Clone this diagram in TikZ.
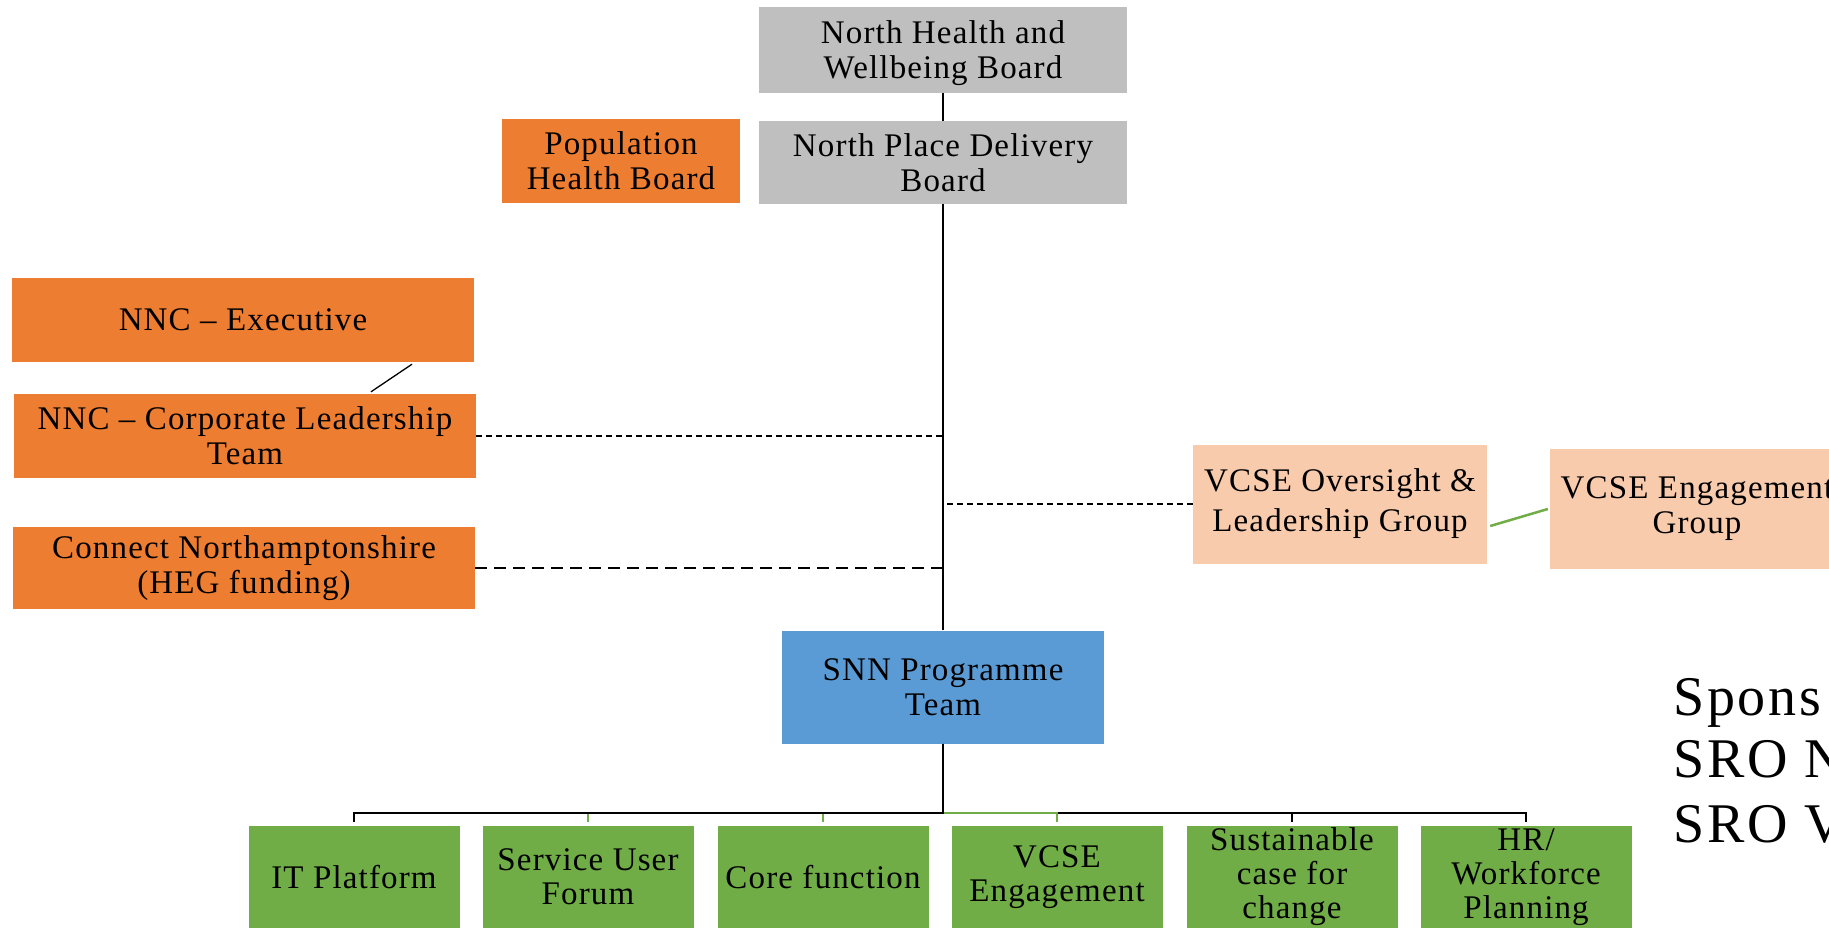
\documentclass[tikz,border=0pt]{standalone}
\usepackage{fontspec}
\setmainfont{Liberation Serif}[LetterSpace=3.5]
\newfontfamily\bigfont{Liberation Serif}[LetterSpace=5]
\definecolor{cgrey}{HTML}{BFBFBF}
\definecolor{corange}{HTML}{ED7D31}
\definecolor{clight}{HTML}{F8CBAD}
\definecolor{cblue}{HTML}{5B9BD5}
\definecolor{cgreen}{HTML}{70AD47}
\begin{document}
\begin{tikzpicture}[x=1pt,y=-1pt,
  box/.style={rectangle, inner sep=0pt, align=center, text=black,
    font=\fontsize{33}{35}\selectfont},
  greybox/.style={box, fill=cgrey},
  orbox/.style={box, fill=corange},
  ltbox/.style={box, fill=clight},
  bluebox/.style={box, fill=cblue},
  grbox/.style={box, fill=cgreen, minimum width=211pt, minimum height=102pt, font=\fontsize{33}{34}\selectfont},
  conn/.style={draw=black, line width=1.4pt},
  gconn/.style={draw=cgreen, line width=2pt},
  bigtext/.style={anchor=base west, inner sep=0pt, font=\bigfont\fontsize{56}{63}\selectfont, text=black}
]
\useasboundingbox (0,0) rectangle (1829,929);
\clip (0,0) rectangle (1829,929);

% top boards
\node[greybox, minimum width=368pt, minimum height=86pt,
  label={[box, yshift=-3.5pt]center:North Health and\\Wellbeing Board}] (nhwb) at (943,50) {};
\node[greybox, minimum width=368pt, minimum height=83pt] (npdb) at (943,162.5) {North Place Delivery\\Board};
\node[orbox, minimum width=238pt, minimum height=84pt] (phb) at (621,161) {Population\\Health Board};

% left column
\node[orbox, minimum width=462pt, minimum height=84pt] (exec) at (243,320) {NNC -- Executive};
\node[orbox, minimum width=462pt, minimum height=84pt] (clt) at (245,436) {NNC -- Corporate Leadership\\Team};
\node[orbox, minimum width=462pt, minimum height=82pt] (cn) at (244,568) {Connect Northamptonshire\\(HEG funding)};

% right VCSE
\node[ltbox, minimum width=294pt, minimum height=119pt, font=\fontsize{33}{40}\selectfont] (vo) at (1340,504) {VCSE Oversight \&\\Leadership Group};
\node[ltbox, minimum width=294pt, minimum height=120pt] (ve) at (1697,509) {VCSE Engagement\\Group};

% programme team
\node[bluebox, minimum width=322pt, minimum height=113pt] (snn) at (943,687) {SNN Programme\\Team};

% workstreams
\node[grbox] (it) at (354,877) {IT Platform};
\node[grbox] (suf) at (588,877) {Service User\\Forum};
\node[grbox] (core) at (823,877) {Core function};
\node[grbox] (vceng) at (1057,877) {VCSE\\Engagement};
\node[grbox] (sust) at (1292,877) {Sustainable\\case for\\change};
\node[grbox] (hr) at (1526,877) {HR/\\Workforce\\Planning};

% sponsor text
\node[bigtext] (sp1) at (1673,715) {Spons};
\node[bigtext] (sp2) at (1673,777) {SRO N};
\node[bigtext] (sp3) at (1673,842) {SRO V};

% connectors top
\draw[conn, line width=1.3pt] (nhwb.south) -- (npdb.north);
\draw[conn, line width=1.1pt] (npdb.south) -- (snn.north);
\draw[black, line width=2.8pt, dash pattern=on 15pt off 5pt] (npdb.south) -- (npdb.south |- cn.east);
\draw[black, line width=1.3pt, dash pattern=on 6pt off 4pt] (clt.east) -- (clt.east -| npdb.south);
\draw[black, line width=2.6pt, dash pattern=on 12pt off 7pt] (cn.east) -- (cn.east -| npdb.south);
\draw[black, line width=1.3pt, dash pattern=on 6pt off 4pt] (vo.west) -- (vo.west -| npdb.south);
\draw[cgreen, line width=2.5pt] ([xshift=3pt,yshift=-22pt]vo.east) -- ([xshift=-2pt]ve.west);
\draw[black, line width=1.3pt] ([xshift=169pt,yshift=-2pt]exec.south) -- ([xshift=126pt,yshift=2pt]clt.north);

% bus to workstreams
\coordinate (bus) at (943,813);
\draw[conn, shorten >=4pt] (snn.south) -- (bus) -| (sust.north);
\draw[conn, shorten >=4pt] (snn.south) -- (bus) -| (hr.north);
\draw[gconn, shorten >=4pt] (snn.south) -- (bus) -| (suf.north);
\draw[gconn, shorten >=4pt] (snn.south) -- (bus) -| (core.north);
\draw[gconn, shorten >=4pt] (snn.south) -- (bus) -| (vceng.north);
\draw[conn, shorten >=4pt] (snn.south) -- (bus) -| (it.north);
\end{tikzpicture}
\end{document}
